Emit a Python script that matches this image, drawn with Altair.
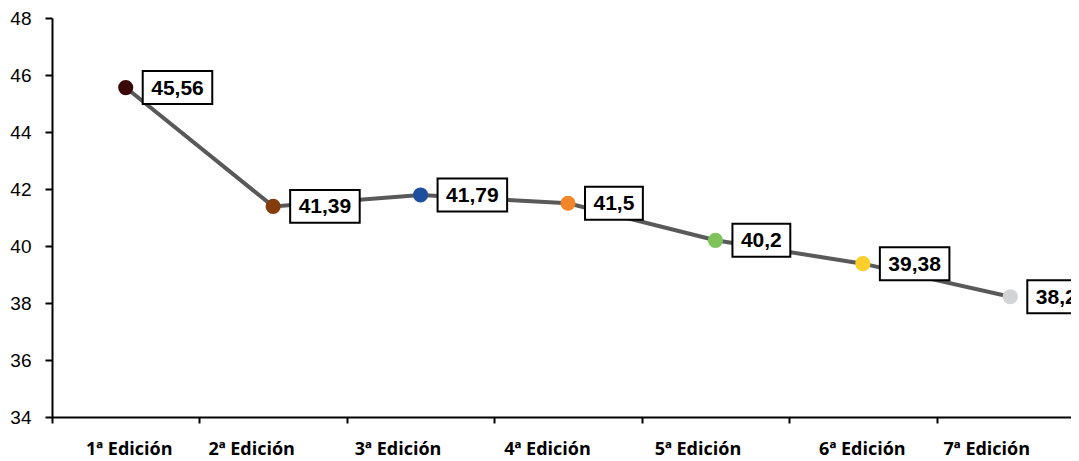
import altair as alt
import pandas as pd

ediciones = ["1ª Edición", "2ª Edición", "3ª Edición", "4ª Edición",
             "5ª Edición", "6ª Edición", "7ª Edición"]
valores = [45.56, 41.39, 41.79, 41.5, 40.2, 39.38, 38.22]
colores = ["#3b0808", "#843c0c", "#1f4e9e", "#f28527", "#7cc35a", "#fccf2b", "#d2d3d5"]
label_nudge = [3, -22, -23, -21, -18, -1, -24]

df = pd.DataFrame({"edicion": ediciones, "valor": valores, "color": colores})

nudge_cond = {
    "condition": [{"test": "datum.value === '" + c + "'", "value": n}
                  for c, n in zip(ediciones, label_nudge)],
    "value": 0,
}

x = alt.X("edicion:N", sort=ediciones, title=None,
          scale=alt.Scale(paddingInner=0, paddingOuter=0, range=[0, 1032]),
          axis=alt.Axis(labelAngle=0, labelFont="Open Sans", labelFontWeight="bold",
                        labelFontSize=18, labelColor="black", tickColor="black",
                        tickSize=6, tickWidth=2, domainColor="black", domainWidth=2,
                        labelPadding=17, tickBand="extent", grid=False,
                        labelOffset=nudge_cond))
y = alt.Y("valor:Q", title=None,
          scale=alt.Scale(domain=[34, 48], nice=False, zero=False),
          axis=alt.Axis(values=[34, 36, 38, 40, 42, 44, 46, 48], labelFont="Liberation Sans",
                        labelFontSize=19, labelColor="black", tickColor="black",
                        tickSize=7, tickWidth=2, domainColor="black", domainWidth=2,
                        labelPadding=14, grid=False))

base = alt.Chart(df)

line = base.mark_line(color="#595959", strokeWidth=4).encode(x=x, y=y)
points = base.mark_point(filled=True, size=230, opacity=1, shape="circle").encode(
    x=x, y=y, color=alt.Color("color:N", scale=None))

labeled = base.transform_calculate(
    label="replace(toString(datum.valor), '.', ',')"
).transform_calculate(
    bw="17 + 11.68*(length(datum.label)-1) + 5.84"
).transform_calculate(
    path="'M0.486,-0.471L' + format((17+datum.bw)/35, '.3f') + ',-0.471L' + format((17+datum.bw)/35, '.3f') + ',0.471L0.486,0.471Z'"
)

boxes = labeled.mark_point(filled=False, fill="white", fillOpacity=1, stroke="black",
                           strokeWidth=2, opacity=1, size=4900).encode(
    x=x, y=y, shape=alt.Shape("path:N", scale=None))
texts = labeled.mark_text(align="left", baseline="middle", dx=25.5, dy=1,
                          font="Liberation Sans", fontSize=21, fontWeight="bold",
                          color="black").encode(
    x=x, y=y, text="label:N")

chart = alt.layer(line, points, boxes, texts).properties(
    width=1019, height=399,
    autosize=alt.AutoSizeParams(type="none"),
    padding={"left": 44, "top": 10, "right": 0, "bottom": 44}
).configure_view(stroke=None)

chart.save("out.html", embed_options={"renderer": "svg", "actions": False})
